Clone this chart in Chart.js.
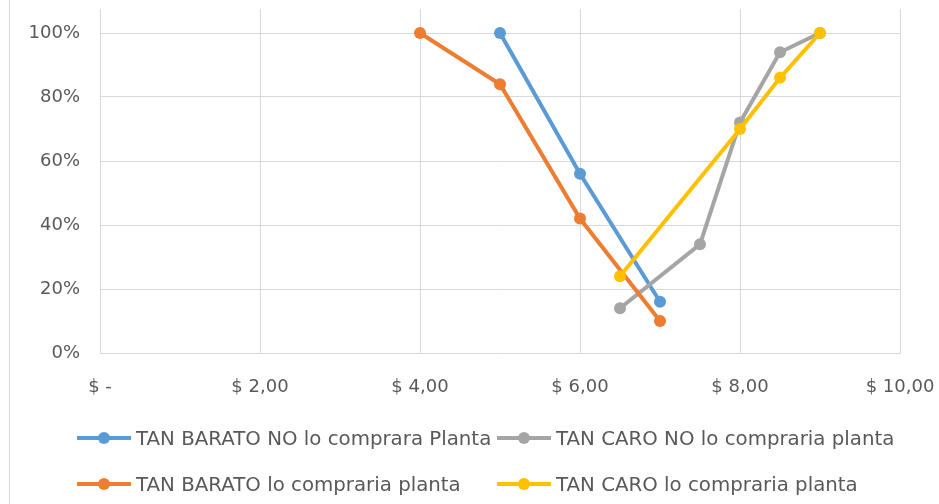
<!DOCTYPE html>
<html>
<head>
<meta charset="utf-8">
<script src="https://cdn.jsdelivr.net/npm/chart.js@4.4.0/dist/chart.umd.min.js"></script>
<style>
  body { margin: 0; background: #fff; }
  #wrap { position: relative; width: 939px; height: 504px; }
  #edge { position: absolute; left: 9px; top: 0; width: 1px; height: 504px; background: #d9d9d9; }
  #legend { position: absolute; left: 77px; top: 425px; display: grid;
    grid-template-columns: 420px 400px; row-gap: 20px;
    font-family: "DejaVu Sans", sans-serif; font-size: 19.8px; color: #595959; }
  .item { display: flex; align-items: center; height: 26px; white-space: nowrap; }
  .sw { position: relative; width: 54px; height: 4px; margin-right: 5px; }
  .sw span { position: absolute; left: 21px; top: -4px; width: 12px; height: 12px; border-radius: 50%; }
</style>
</head>
<body>
<div id="wrap">
  <div id="edge"></div>
  <canvas id="chart" width="939" height="504"></canvas>
  <div id="legend"></div>
</div>
<script>
// precio ($) y porcentaje acumulado por serie
const baratoNoPrecio = [5, 6, 7];
const baratoNoPct = [1.00, 0.56, 0.16];
const caroNoPrecio = [6.5, 7.5, 8, 8.5, 9];
const caroNoPct = [0.14, 0.34, 0.72, 0.94, 1.00];
const baratoPrecio = [4, 5, 6, 7];
const baratoPct = [1.00, 0.84, 0.42, 0.10];
const caroPrecio = [6.5, 8, 8.5, 9];
const caroPct = [0.24, 0.70, 0.86, 1.00];

const xTicks = [0, 2, 4, 6, 8, 10];
const yTicks = [0, 0.2, 0.4, 0.6, 0.8, 1.0];

const labels = [
  'TAN BARATO NO lo comprara Planta',
  'TAN CARO NO lo compraria planta',
  'TAN BARATO lo compraria planta',
  'TAN CARO lo compraria planta'
];
const colors = ['#5B9BD5', '#A5A5A5', '#ED7D31', '#FFC000'];

function pts(xs, ys) {
  return xs.map(function (x, i) { return { x: x, y: ys[i] }; });
}

const series = [
  pts(baratoNoPrecio, baratoNoPct),
  pts(caroNoPrecio, caroNoPct),
  pts(baratoPrecio, baratoPct),
  pts(caroPrecio, caroPct)
];

const datasets = series.map(function (d, i) {
  return {
    label: labels[i],
    data: d,
    borderColor: colors[i],
    backgroundColor: colors[i],
    borderWidth: 4,
    pointRadius: 6,
    pointBorderWidth: 0,
    pointHoverRadius: 6,
    order: 4 - i,
    tension: 0
  };
});

const tickFont = { family: '"DejaVu Sans", sans-serif', size: 18 };

new Chart(document.getElementById('chart'), {
  type: 'line',
  data: { datasets: datasets },
  options: {
    responsive: false,
    animation: false,
    layout: { padding: { top: 9, right: 39, left: 0, bottom: 0 } },
    plugins: { legend: { display: false }, tooltip: { enabled: false } },
    scales: {
      x: {
        type: 'linear',
        min: 0,
        max: 10,
        afterBuildTicks: function (s) { s.ticks = xTicks.map(function (v) { return { value: v }; }); },
        afterFit: function (s) { s.height = 151; s.paddingLeft = 0; s.paddingRight = 0; },
        grid: { color: '#d9d9d9', lineWidth: 1, drawTicks: false },
        border: { color: '#d9d9d9', width: 1 },
        ticks: {
          padding: 24,
          color: '#595959',
          font: tickFont,
          maxRotation: 0,
          callback: function (v) { return v === 0 ? '$ -' : '$ ' + v.toFixed(2).replace('.', ','); }
        }
      },
      y: {
        min: 0,
        max: 1.075,
        afterBuildTicks: function (s) { s.ticks = yTicks.map(function (v) { return { value: v }; }); },
        afterFit: function (s) { s.width = 100; s.paddingTop = 0; s.paddingBottom = 0; },
        grid: { color: '#d9d9d9', lineWidth: 1, drawTicks: false },
        border: { color: '#d9d9d9', width: 1 },
        ticks: {
          padding: 20,
          color: '#595959',
          font: tickFont,
          callback: function (v) { return Math.round(v * 100) + '%'; }
        }
      }
    }
  }
});

// leyenda en dos filas y dos columnas, como en el original
const legend = document.getElementById('legend');
labels.forEach(function (l, i) {
  const it = document.createElement('div');
  it.className = 'item';
  it.innerHTML = '<div class="sw" style="background:' + colors[i] + '"><span style="background:' +
    colors[i] + '"></span></div>' + l;
  legend.appendChild(it);
});
</script>
</body>
</html>
